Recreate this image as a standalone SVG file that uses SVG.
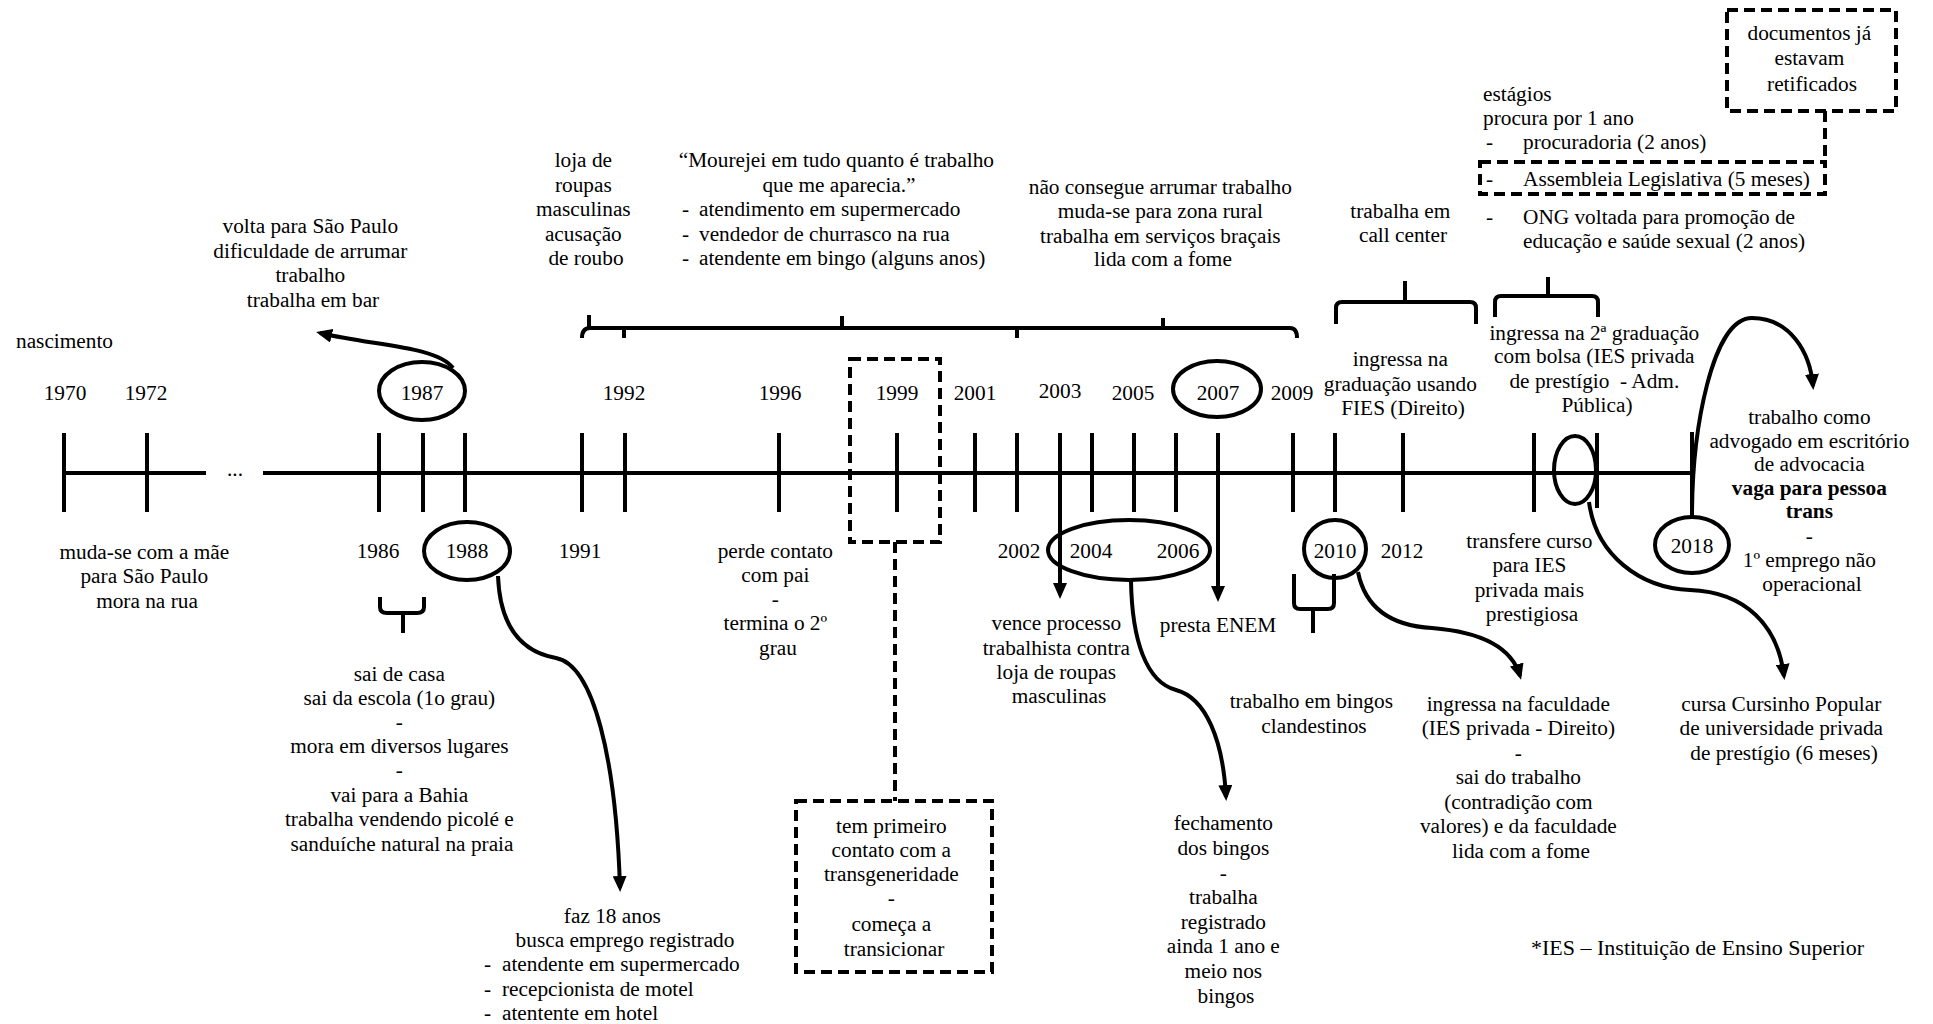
<svg xmlns="http://www.w3.org/2000/svg" width="1933" height="1024" viewBox="0 0 1933 1024">
  <style>
    .t { font-family: "Liberation Serif", "Times New Roman", serif; font-size: 21.3px; fill: #000; }
    .c { text-anchor: middle; }
    .b { font-weight: bold; }
    .ln { stroke: #000; stroke-width: 4; fill: none; }
    .dsh { stroke: #000; stroke-width: 4; fill: none; stroke-dasharray: 11 6; }
    .arr { stroke: #000; stroke-width: 4; fill: none; marker-end: url(#ah); }
  </style>
  <defs>
    <marker id="ah" markerUnits="userSpaceOnUse" markerWidth="16" markerHeight="14" viewBox="0 0 16 14" refX="12" refY="7" orient="auto">
      <path d="M0,0 L16,7 L0,14 z" fill="#000"/>
    </marker>
  </defs>
  <rect width="1933" height="1024" fill="#fff"/>

  <!-- timeline axis and ticks -->
  <g id="axis">
    <path class="ln" d="M64 473 H206 M263 473 H1692"/>
    <text class="t c" x="235" y="476">...</text>
    <path class="ln" d="M64 433 V512 M147 433 V512 M379 433 V512 M423 433 V512 M465 433 V512 M582 433 V512 M625 433 V512 M779 433 V512 M897 433 V512 M975 433 V512 M1017 433 V512 M1060 433 V512 M1092 433 V512 M1134 433 V512 M1176 433 V512 M1218 433 V512 M1293 433 V512 M1335 433 V512 M1403 433 V512 M1534 433 V512 M1597 433 V508 M1692 432 V517"/>
  </g>

  <!-- year labels -->
  <g id="years" class="t c">
    <text x="65" y="400">1970</text>
    <text x="146" y="400">1972</text>
    <text x="422" y="400">1987</text>
    <text x="624" y="400">1992</text>
    <text x="780" y="400">1996</text>
    <text x="897" y="400">1999</text>
    <text x="975" y="400">2001</text>
    <text x="1060" y="398">2003</text>
    <text x="1133" y="400">2005</text>
    <text x="1218" y="400">2007</text>
    <text x="1292" y="400">2009</text>
    <text x="378" y="558">1986</text>
    <text x="467" y="558">1988</text>
    <text x="580" y="558">1991</text>
    <text x="1019" y="558">2002</text>
    <text x="1091" y="558">2004</text>
    <text x="1178" y="558">2006</text>
    <text x="1335" y="558">2010</text>
    <text x="1402" y="558">2012</text>
    <text x="1692" y="553">2018</text>
  </g>

  <!-- highlighted years -->
  <g id="mark-1987"><ellipse class="ln" cx="422" cy="391" rx="43" ry="29"/></g>
  <g id="mark-1988"><ellipse class="ln" cx="467" cy="551" rx="43" ry="29"/></g>
  <g id="mark-2007"><ellipse class="ln" cx="1217" cy="389" rx="44" ry="28"/></g>
  <g id="mark-2004-2006"><ellipse class="ln" cx="1129" cy="550" rx="81" ry="30"/></g>
  <g id="mark-2010"><ellipse class="ln" cx="1335" cy="549" rx="31" ry="29"/></g>
  <g id="mark-2016"><ellipse class="ln" cx="1575" cy="470" rx="21" ry="34"/></g>
  <g id="mark-2018"><ellipse class="ln" cx="1692" cy="545" rx="37" ry="28"/></g>

  <!-- period braces -->
  <g id="brace-1986"><path class="ln" d="M380 597 V607 Q380 613 387 613 H417 Q424 613 424 607 V597 M403 613 V633"/></g>
  <g id="brace-1991-2009"><path class="ln" d="M582 338 Q582 328 590 328 H1290 Q1297 328 1297 338 M589 328 V315 M624 328 V338 M842 328 V316 M1017 328 V338 M1163 328 V318"/></g>
  <g id="brace-callcenter"><path class="ln" d="M1336 324 V308 Q1336 302 1342 302 H1470 Q1476 302 1476 308 V324 M1405 302 V281"/></g>
  <g id="brace-graduacao2"><path class="ln" d="M1495 317 V302 Q1495 296 1501 296 H1592 Q1598 296 1598 302 V317 M1548 296 V277"/></g>
  <g id="brace-bingos"><path class="ln" d="M1294 574 V603 Q1294 609 1300 609 H1328 Q1334 609 1334 603 V574 M1313 609 V633"/></g>

  <!-- dashed boxes -->
  <g id="box-1999"><rect class="dsh" x="850" y="359" width="90" height="183"/></g>
  <g id="box-transgeneridade">
    <rect class="dsh" x="796" y="801" width="196" height="171"/>
    <text class="t c">
      <tspan x="894" y="833">tem primeiro</tspan>
      <tspan x="894" y="857">contato com a</tspan>
      <tspan x="894" y="881">transgeneridade</tspan>
      <tspan x="894" y="905">-</tspan>
      <tspan x="894" y="931">começa a</tspan>
      <tspan x="894" y="956">transicionar</tspan>
    </text>
  </g>
  <g id="box-assembleia"><rect class="dsh" x="1480" y="162" width="345" height="32"/></g>
  <g id="box-documentos">
    <rect class="dsh" x="1727" y="10" width="169" height="101"/>
    <text class="t c">
      <tspan x="1812" y="40">documentos já</tspan>
      <tspan x="1812" y="65">estavam</tspan>
      <tspan x="1812" y="91">retificados</tspan>
    </text>
  </g>

  <!-- connectors -->
  <g id="connectors">
    <path class="dsh" d="M895 542 V801"/>
    <path class="dsh" d="M1825 111 V162"/>
    <path class="arr" d="M453 368 C436 346, 375 346, 320 333"/>
    <path class="arr" d="M498 576 C500 628, 522 652, 556 658 C594 665, 616 760, 620 888"/>
    <path class="arr" d="M1060 433 V595"/>
    <path class="arr" d="M1218 433 V598"/>
    <path class="arr" d="M1131 581 C1132 640, 1146 682, 1176 690 C1206 698, 1223 740, 1226 797"/>
    <path class="arr" d="M1358 572 C1366 612, 1396 626, 1432 628 C1482 632, 1512 648, 1520 676"/>
    <path class="arr" d="M1589 502 C1596 555, 1640 588, 1690 590 C1746 592, 1778 626, 1784 676"/>
    <path class="arr" d="M1692 517 C1692 430, 1712 318, 1752 318 C1790 318, 1810 352, 1813 386"/>
  </g>

  <!-- event texts -->
  <g id="nascimento"><text class="t" x="16" y="348">nascimento</text></g>
  <g id="volta-sp">
    <text class="t c">
      <tspan x="313" y="233">volta para São Paulo</tspan>
      <tspan x="313" y="258">dificuldade de arrumar</tspan>
      <tspan x="313" y="282">trabalho</tspan>
      <tspan x="313" y="307">trabalha em bar</tspan>
    </text>
  </g>
  <g id="muda-se">
    <text class="t c">
      <tspan x="147" y="559">muda-se com a mãe</tspan>
      <tspan x="147" y="583">para São Paulo</tspan>
      <tspan x="147" y="608">mora na rua</tspan>
    </text>
  </g>
  <g id="sai-de-casa">
    <text class="t c">
      <tspan x="402" y="681">sai de casa</tspan>
      <tspan x="402" y="705">sai da escola (1o grau)</tspan>
      <tspan x="402" y="729">-</tspan>
      <tspan x="402" y="753">mora em diversos lugares</tspan>
      <tspan x="402" y="777">-</tspan>
      <tspan x="402" y="802">vai para a Bahia</tspan>
      <tspan x="402" y="826">trabalha vendendo picolé e</tspan>
      <tspan x="402" y="851">sanduíche natural na praia</tspan>
    </text>
  </g>
  <g id="faz-18">
    <text class="t c">
      <tspan x="615" y="923">faz 18 anos</tspan>
      <tspan x="625" y="947">busca emprego registrado</tspan>
    </text>
    <text class="t">
      <tspan x="484" y="971">-</tspan><tspan x="502" y="971">atendente em supermercado</tspan>
      <tspan x="484" y="996">-</tspan><tspan x="502" y="996">recepcionista de motel</tspan>
      <tspan x="484" y="1020">-</tspan><tspan x="502" y="1020">atentente em hotel</tspan>
    </text>
  </g>
  <g id="loja-roupas">
    <text class="t c">
      <tspan x="586" y="167">loja de</tspan>
      <tspan x="586" y="192">roupas</tspan>
      <tspan x="586" y="216">masculinas</tspan>
      <tspan x="586" y="241">acusação</tspan>
      <tspan x="586" y="265">de roubo</tspan>
    </text>
  </g>
  <g id="mourejei">
    <text class="t c">
      <tspan x="839" y="167">“Mourejei em tudo quanto é trabalho</tspan>
      <tspan x="839" y="192">que me aparecia.”</tspan>
    </text>
    <text class="t">
      <tspan x="682" y="216">-</tspan><tspan x="699" y="216">atendimento em supermercado</tspan>
      <tspan x="682" y="241">-</tspan><tspan x="699" y="241">vendedor de churrasco na rua</tspan>
      <tspan x="682" y="265">-</tspan><tspan x="699" y="265">atendente em bingo (alguns anos)</tspan>
    </text>
  </g>
  <g id="perde-contato">
    <text class="t c">
      <tspan x="778" y="558">perde contato</tspan>
      <tspan x="778" y="582">com pai</tspan>
      <tspan x="778" y="606">-</tspan>
      <tspan x="778" y="630">termina o 2º</tspan>
      <tspan x="778" y="655">grau</tspan>
    </text>
  </g>
  <g id="zona-rural">
    <text class="t c">
      <tspan x="1163" y="194">não consegue arrumar trabalho</tspan>
      <tspan x="1163" y="218">muda-se para zona rural</tspan>
      <tspan x="1163" y="243">trabalha em serviços braçais</tspan>
      <tspan x="1163" y="266">lida com a fome</tspan>
    </text>
  </g>
  <g id="vence-processo">
    <text class="t c">
      <tspan x="1059" y="630">vence processo</tspan>
      <tspan x="1059" y="655">trabalhista contra</tspan>
      <tspan x="1059" y="679">loja de roupas</tspan>
      <tspan x="1059" y="703">masculinas</tspan>
    </text>
  </g>
  <g id="enem"><text class="t c" x="1218" y="632">presta ENEM</text></g>
  <g id="fechamento">
    <text class="t c">
      <tspan x="1226" y="830">fechamento</tspan>
      <tspan x="1226" y="855">dos bingos</tspan>
      <tspan x="1226" y="880">-</tspan>
      <tspan x="1226" y="904">trabalha</tspan>
      <tspan x="1226" y="929">registrado</tspan>
      <tspan x="1226" y="953">ainda 1 ano e</tspan>
      <tspan x="1226" y="978">meio nos</tspan>
      <tspan x="1226" y="1003">bingos</tspan>
    </text>
  </g>
  <g id="call-center">
    <text class="t c">
      <tspan x="1403" y="218">trabalha em</tspan>
      <tspan x="1403" y="242">call center</tspan>
    </text>
  </g>
  <g id="fies">
    <text class="t c">
      <tspan x="1403" y="366">ingressa na</tspan>
      <tspan x="1403" y="391">graduação usando</tspan>
      <tspan x="1403" y="415">FIES (Direito)</tspan>
    </text>
  </g>
  <g id="bingos-clandestinos">
    <text class="t c">
      <tspan x="1314" y="708">trabalho em bingos</tspan>
      <tspan x="1314" y="733">clandestinos</tspan>
    </text>
  </g>
  <g id="faculdade">
    <text class="t c">
      <tspan x="1521" y="711">ingressa na faculdade</tspan>
      <tspan x="1521" y="735">(IES privada - Direito)</tspan>
      <tspan x="1521" y="760">-</tspan>
      <tspan x="1521" y="784">sai do trabalho</tspan>
      <tspan x="1521" y="809">(contradição com</tspan>
      <tspan x="1521" y="833">valores) e da faculdade</tspan>
      <tspan x="1521" y="858">lida com a fome</tspan>
    </text>
  </g>
  <g id="transfere">
    <text class="t c">
      <tspan x="1532" y="548">transfere curso</tspan>
      <tspan x="1532" y="572">para IES</tspan>
      <tspan x="1532" y="597">privada mais</tspan>
      <tspan x="1532" y="621">prestigiosa</tspan>
    </text>
  </g>
  <g id="estagios">
    <text class="t">
      <tspan x="1483" y="101">estágios</tspan>
      <tspan x="1483" y="125">procura por 1 ano</tspan>
      <tspan x="1486" y="149">-</tspan><tspan x="1523" y="149">procuradoria (2 anos)</tspan>
      <tspan x="1486" y="186">-</tspan><tspan x="1523" y="186">Assembleia Legislativa (5 meses)</tspan>
      <tspan x="1486" y="224">-</tspan><tspan x="1523" y="224">ONG voltada para promoção de</tspan>
      <tspan x="1523" y="248">educação e saúde sexual (2 anos)</tspan>
    </text>
  </g>
  <g id="graduacao2">
    <text class="t c">
      <tspan x="1597" y="340">ingressa na 2ª graduação</tspan>
      <tspan x="1597" y="363">com bolsa (IES privada</tspan>
      <tspan x="1597" y="388">de prestígio &#160;- Adm.</tspan>
      <tspan x="1597" y="412">Pública)</tspan>
    </text>
  </g>
  <g id="advogado">
    <text class="t c">
      <tspan x="1812" y="424">trabalho como</tspan>
      <tspan x="1812" y="448">advogado em escritório</tspan>
      <tspan x="1812" y="471">de advocacia</tspan>
      <tspan class="b" x="1812" y="495">vaga para pessoa</tspan>
      <tspan class="b" x="1812" y="518">trans</tspan>
      <tspan x="1812" y="543">-</tspan>
      <tspan x="1812" y="567">1º emprego não</tspan>
      <tspan x="1812" y="591">operacional</tspan>
    </text>
  </g>
  <g id="cursinho">
    <text class="t c">
      <tspan x="1784" y="711">cursa Cursinho Popular</tspan>
      <tspan x="1784" y="735">de universidade privada</tspan>
      <tspan x="1784" y="760">de prestígio (6 meses)</tspan>
    </text>
  </g>
  <g id="nota-ies"><text class="t" x="1531" y="955" style="font-size:22px">*IES – Instituição de Ensino Superior</text></g>
</svg>
